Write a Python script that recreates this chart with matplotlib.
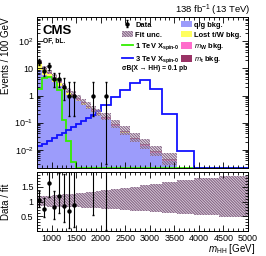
import numpy as np
import matplotlib
matplotlib.use('Agg')
import matplotlib.pyplot as plt
from matplotlib.patches import Patch
from matplotlib.lines import Line2D
from matplotlib.ticker import MultipleLocator, FuncFormatter, LogLocator, NullFormatter

plt.rcParams['font.family'] = ['Liberation Sans', 'DejaVu Sans']
plt.rcParams['mathtext.fontset'] = 'custom'
plt.rcParams['mathtext.rm'] = 'Liberation Sans'
plt.rcParams['mathtext.it'] = 'Liberation Sans:italic'
plt.rcParams['mathtext.bf'] = 'Liberation Sans:bold'
plt.rcParams['hatch.linewidth'] = 0.7

# bin edges, m_HH [GeV]
edges = np.array([700, 800, 900, 1000, 1100, 1200, 1300, 1400, 1500, 1600, 1700,
                  1800, 1900, 2000, 2200, 2400, 2600, 2800, 3000, 3250, 3550,
                  3900, 4400, 5000])

# background components, events / 100 GeV
qg_bkg = [9.01, 5.77, 4.29, 3.05, 2.17, 1.63, 1.06, 0.85, 0.61, 0.453, 0.335,
          0.251, 0.189, 0.133, 0.074, 0.0422, 0.0239, 0.0136, 0.00753, 0.00377,
          0.001, 0.00042, 0.00017]
lost_tw = [5.95, 3.47, 2.22, 1.35, 0.82, 0.48, 0.26, 0.16, 0.096, 0.058, 0.034,
           0.022, 0.014, 0.008, 0.0035, 0.0018, 0.0008, 0.0005, 0.00022, 0.0001,
           0.00003, 0.00001, 0.00001]
mw_bkg = [0.68, 0.42, 0.30, 0.20, 0.14, 0.10, 0.06, 0.046, 0.032, 0.023, 0.017,
          0.012, 0.009, 0.006, 0.0035, 0.002, 0.0011, 0.0006, 0.00035, 0.00018,
          0.00005, 0.00002, 0.00001]
mt_bkg = [1.36, 0.84, 0.59, 0.40, 0.27, 0.19, 0.12, 0.092, 0.064, 0.046, 0.034,
          0.025, 0.018, 0.013, 0.007, 0.004, 0.0022, 0.0013, 0.0007, 0.00035,
          0.0001, 0.00005, 0.00002]

# fit uncertainty band, relative to the fit
unc_up = [1.18, 1.19, 1.20, 1.21, 1.22, 1.24, 1.25, 1.27, 1.28, 1.30, 1.32, 1.33,
          1.35, 1.38, 1.42, 1.46, 1.50, 1.55, 1.60, 1.66, 1.73, 1.80, 1.88]
unc_down = [0.84, 0.84, 0.83, 0.83, 0.82, 0.82, 0.81, 0.80, 0.80, 0.79, 0.78,
            0.78, 0.77, 0.75, 0.73, 0.71, 0.69, 0.67, 0.64, 0.61, 0.57, 0.53, 0.49]

# signals, sigma*B = 0.1 pb
sig_1tev = [1.8, 4.5, 5.0, 4.0, 1.6, 0.12, 0.021, 0.0036, 0, 0, 0, 0, 0, 0, 0,
            0, 0, 0, 0, 0, 0, 0, 0]
sig_3tev = [0.0133, 0.0168, 0.0209, 0.026, 0.0337, 0.042, 0.052, 0.0676, 0.088,
            0.114, 0.148, 0.192, 0.27, 0.43, 0.92, 1.6, 2.8, 3.8, 1.8, 0.21,
            0.0087, 0, 0]

# observed data
data_mass = [750, 850, 950, 1050, 1150, 1250, 1350, 1450, 1850, 2100]
data_val = [18, 8, 12, 4, 4, 2, 1, 1, 1, 1]
data_lo = [13.8, 5.14, 8.55, 2.09, 2.09, 0.71, 0.173, 0.173, 0.173, 0.003]
data_hi = [23.3, 11.8, 16.6, 6.72, 6.72, 4.64, 3.3, 3.3, 3.3, 3.3]

ymin, ymax = 2.1e-3, 8e2
bkg_colors = ['#9c9cfb', '#ffff60', '#ff6ccc', '#993366']
hatch_col = '#806080'
hatch_face = '#d6c6d6'
hatch = '\\' * 12
green = '#33ee00'
blue = '#1212ff'

fig = plt.figure(figsize=(2.66, 2.56), dpi=100)
ax = fig.add_axes([37/266, 88/256, 211/266, 151/256])
rax = fig.add_axes([37/266, 25/256, 211/266, 59/256])

stack = np.cumsum([qg_bkg, lost_tw, mw_bkg, mt_bkg], axis=0)
total = stack[-1]
for level, c in reversed(list(zip(stack, bkg_colors))):
    ax.stairs(level, edges, baseline=1e-7, fill=True, color=c, lw=0)

ax.stairs(np.maximum(sig_1tev, ymin), edges, baseline=None, color=green, lw=1.3)
ax.stairs(np.maximum(sig_3tev, ymin), edges, baseline=None, color=blue, lw=1.3)

ax.stairs(total * np.array(unc_up), edges, baseline=total * np.array(unc_down),
          fill=True, facecolor=(0.82, 0.75, 0.82, 0.5), edgecolor=hatch_col,
          hatch=hatch, lw=0)

dv = np.array(data_val, float)
h_data = ax.errorbar(data_mass, dv, yerr=[dv - data_lo, np.array(data_hi) - dv],
                     fmt='o', color='k', ms=2.2, lw=0.8, capsize=0.8)

ax.set_xlim(700, 5000)
ax.set_yscale('log')
ax.set_ylim(ymin, ymax)

def log_fmt(v, pos):
    e = int(round(np.log10(v)))
    if e == 0:
        return '1'
    if e == 1:
        return '10'
    return '$10^{%d}$' % e

ax.yaxis.set_major_locator(LogLocator(base=10, numticks=10))
ax.yaxis.set_minor_locator(LogLocator(base=10, subs=np.arange(2, 10), numticks=20))
ax.yaxis.set_major_formatter(FuncFormatter(log_fmt))
ax.yaxis.set_minor_formatter(NullFormatter())

# ratio panel
rax.stairs(unc_up, edges, baseline=unc_down, fill=True, facecolor=hatch_face,
           edgecolor=hatch_col, hatch=hatch, lw=0)
idx = np.searchsorted(edges, data_mass) - 1
r = dv / total[idx]
r_lo = np.array(data_lo) / total[idx]
r_hi = np.array(data_hi) / total[idx]
rax.errorbar(data_mass, r, yerr=[r - r_lo, r_hi - r], fmt='o', color='k',
             ms=2.2, lw=0.8, capsize=0.8)
rax.set_xlim(700, 5000)
rax.set_ylim(0, 2)
rax.set_yticks([0.5, 1, 1.5])
rax.yaxis.set_major_formatter(FuncFormatter(lambda v, p: '%g' % v))
rax.yaxis.set_minor_locator(MultipleLocator(0.1))

for a in (ax, rax):
    a.xaxis.set_major_locator(MultipleLocator(500))
    a.xaxis.set_minor_locator(MultipleLocator(100))
    a.tick_params(which='both', direction='in', top=True, right=True,
                  labelsize=6.5, width=0.6, pad=2.5)
    a.tick_params(which='major', length=4)
    a.tick_params(which='minor', length=2)
    for s in a.spines.values():
        s.set_linewidth(0.7)
ax.tick_params(labelbottom=False)

ax.set_ylabel('Events / 100 GeV', loc='top', fontsize=7)
ax.yaxis.set_label_coords(-0.125, 1)
rax.set_ylabel('Data / fit', fontsize=7)
rax.yaxis.set_label_coords(-0.125, 0.5)
rax.set_xlabel('$m_\\mathrm{HH}$ [GeV]', loc='right', fontsize=7)
rax.xaxis.set_label_coords(1.035, -0.19)

ax.text(0.028, 0.945, 'CMS', transform=ax.transAxes, fontsize=9.5,
        weight='bold', va='top')
ax.text(0.028, 0.84, 'OF, bL.', transform=ax.transAxes, fontsize=4.8,
        weight='bold', va='center')
fig.text(250/266, 1 - 10.5/256, '138 fb$^{-1}$ (13 TeV)', ha='right',
         va='center', fontsize=6.8)

h_unc = Patch(facecolor=hatch_face, edgecolor=hatch_col, hatch=hatch, lw=0)
h_1 = Line2D([], [], color=green, lw=1.3)
h_3 = Line2D([], [], color=blue, lw=1.3)
leg_kw = dict(frameon=False, prop=dict(size=5.4, weight='bold'), handlelength=1.45,
              handleheight=0.95, handletextpad=0.3, labelspacing=0.3,
              borderpad=0, borderaxespad=0, loc='upper left')
leg1 = ax.legend([h_data, h_unc, h_1, h_3],
                 ['Data', 'Fit unc.', '1 TeV X$_{\\mathbf{spin\u20100}}$',
                  '3 TeV X$_{\\mathbf{spin\u20100}}$'],
                 bbox_to_anchor=(0.403, 0.975), **leg_kw)
ax.add_artist(leg1)
h_bkg = [Patch(facecolor=c, lw=0) for c in bkg_colors]
ax.legend(h_bkg, ['q/g bkg.', 'Lost t/W bkg.', '$m_\\mathbf{W}$ bkg.',
                  '$m_\\mathbf{t}$ bkg.'],
          bbox_to_anchor=(0.682, 0.975), **leg_kw)
ax.text(0.403, 0.656, '\u03c3B(X \u2192 HH) = 0.1 pb', transform=ax.transAxes,
        fontsize=4.8, weight='bold', va='center')

fig.savefig('out.png', dpi=100)
